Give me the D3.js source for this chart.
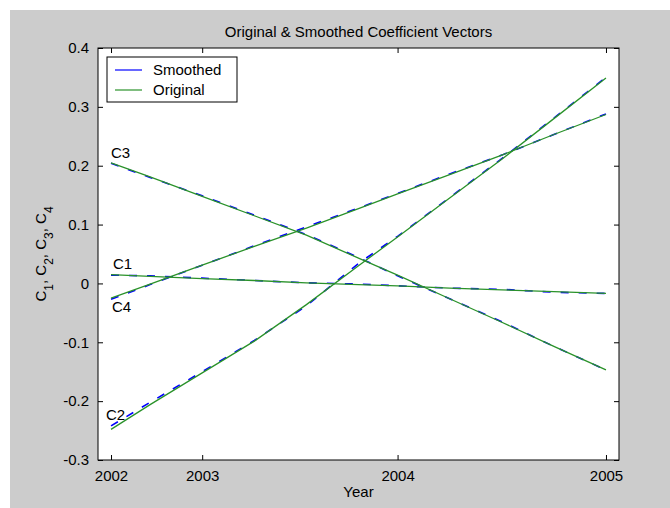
<!DOCTYPE html>
<html>
<head>
<meta charset="utf-8">
<script src="https://cdnjs.cloudflare.com/ajax/libs/d3/7.8.5/d3.min.js"></script>
<style>
  body { margin: 0; background: #fff; }
  text { font-family: "Liberation Sans", Arial, Helvetica, sans-serif; font-size: 15px; fill: #000; }
</style>
</head>
<body>
<div id="chart"></div>
<script>
// observation index (1..39), years marked on the axis
var obs = [1, 4, 8, 12, 16, 20, 23, 27, 31, 35, 39];
var yearTicks = [1, 8, 23, 39];
var yearLabels = ["2002", "2003", "2004", "2005"];
var yTicks = [-0.3, -0.2, -0.1, 0, 0.1, 0.2, 0.3, 0.4];
var seriesNames = ["C1", "C2", "C3", "C4"];

var origC1 = [0.015, 0.012, 0.008, 0.005, 0.001, -0.002, -0.004, -0.008, -0.011, -0.014, -0.017];
var origC2 = [-0.248, -0.206, -0.152, -0.098, -0.036, 0.030, 0.079, 0.145, 0.211, 0.280, 0.349];
var origC3 = [0.205, 0.181, 0.148, 0.115, 0.082, 0.043, 0.014, -0.026, -0.066, -0.107, -0.147];
var origC4 = [-0.025, -0.001, 0.031, 0.063, 0.094, 0.127, 0.152, 0.185, 0.218, 0.253, 0.287];

var smoothC1 = [0.014, 0.013, 0.009, 0.005, 0.001, -0.001, -0.004, -0.008, -0.010, -0.015, -0.017];
var smoothC2 = [-0.242, -0.202, -0.150, -0.097, -0.038, 0.034, 0.080, 0.146, 0.212, 0.281, 0.350];
var smoothC3 = [0.204, 0.180, 0.149, 0.116, 0.083, 0.044, 0.013, -0.026, -0.065, -0.107, -0.147];
var smoothC4 = [-0.027, -0.002, 0.031, 0.064, 0.096, 0.128, 0.153, 0.186, 0.218, 0.253, 0.288];

(function(){
  var width = 670, height = 508;
  var left = 98, right = 619, top = 48, bottom = 460;

  var svg = d3.select("#chart").append("svg")
    .attr("width", width)
    .attr("height", height);

  // figure background
  svg.append("rect")
    .attr("x", 10).attr("y", 10)
    .attr("width", width - 10).attr("height", height - 10)
    .attr("fill", "#cccccc");

  svg.append("rect")
    .attr("x", left).attr("y", top)
    .attr("width", right - left).attr("height", bottom - top)
    .attr("fill", "#fff");

  var x = d3.scaleLinear().domain([0, 40]).range([left, right]);
  var y = d3.scaleLinear().domain([-0.3, 0.4]).range([bottom, top]);

  var line = d3.line()
    .x(function(d) { return x(d[0]); })
    .y(function(d) { return y(d[1]); });

  var smoothed = [smoothC1, smoothC2, smoothC3, smoothC4];
  var original = [origC1, origC2, origC3, origC4];

  smoothed.forEach(function(s) {
    svg.append("path")
      .attr("d", line(obs.map(function(t, i) { return [t, s[i]]; })))
      .attr("fill", "none")
      .attr("stroke", "#0000ff")
      .attr("stroke-width", 1.6)
      .attr("stroke-dasharray", "8,10");
  });

  original.forEach(function(s) {
    svg.append("path")
      .attr("d", line(obs.map(function(t, i) { return [t, s[i]]; })))
      .attr("fill", "none")
      .attr("stroke", "#2a922a")
      .attr("stroke-width", 1.3);
  });

  // series labels next to the first point
  var labelOff = [[2, -6], [-5, -9], [0, -5], [1, 14]];
  seriesNames.forEach(function(n, i) {
    svg.append("text")
      .attr("x", x(obs[0]) + labelOff[i][0])
      .attr("y", y(original[i][0]) + labelOff[i][1])
      .text(n);
  });

  // axes with inward ticks on all sides
  var fmt = function(d) { return String(+d.toFixed(1)); };
  var xb = svg.append("g")
    .attr("transform", "translate(0," + bottom + ")")
    .call(d3.axisBottom(x).tickValues(yearTicks)
      .tickFormat(function(d, i) { return yearLabels[i]; })
      .tickSizeInner(-5).tickSizeOuter(0).tickPadding(10));
  var xt = svg.append("g")
    .attr("transform", "translate(0," + top + ")")
    .call(d3.axisTop(x).tickValues(yearTicks).tickFormat("")
      .tickSizeInner(-5).tickSizeOuter(0));
  var yl = svg.append("g")
    .attr("transform", "translate(" + left + ",0)")
    .call(d3.axisLeft(y).tickValues(yTicks).tickFormat(fmt)
      .tickSizeInner(-5).tickSizeOuter(0).tickPadding(9));
  var yr = svg.append("g")
    .attr("transform", "translate(" + right + ",0)")
    .call(d3.axisRight(y).tickValues(yTicks).tickFormat("")
      .tickSizeInner(-5).tickSizeOuter(0));

  [xb, xt, yl, yr].forEach(function(g) {
    g.select(".domain").remove();
    g.selectAll("text").attr("font-size", null).attr("font-family", null);
    g.selectAll("line").attr("stroke", "#000");
  });

  svg.append("rect")
    .attr("x", left).attr("y", top)
    .attr("width", right - left).attr("height", bottom - top)
    .attr("fill", "none")
    .attr("stroke", "#000");

  // title and axis labels
  svg.append("text")
    .attr("x", (left + right) / 2).attr("y", 37)
    .attr("text-anchor", "middle")
    .text("Original & Smoothed Coefficient Vectors");

  svg.append("text")
    .attr("x", (left + right) / 2).attr("y", 497)
    .attr("text-anchor", "middle")
    .text("Year");

  var ylab = svg.append("text")
    .attr("transform", "translate(46," + ((top + bottom) / 2) + ") rotate(-90)")
    .attr("text-anchor", "middle");
  seriesNames.forEach(function(n, i) {
    ylab.append("tspan").text("C");
    ylab.append("tspan").attr("baseline-shift", "sub").attr("font-size", "12px").text(n.slice(1));
    if (i < 3) ylab.append("tspan").text(", ");
  });

  // legend
  var lg = svg.append("g");
  lg.append("rect")
    .attr("x", 107).attr("y", 57).attr("width", 130).attr("height", 45)
    .attr("fill", "#fff").attr("stroke", "#000");
  var legendItems = [["Smoothed", "#0000ff"], ["Original", "#2a922a"]];
  legendItems.forEach(function(it, i) {
    lg.append("line")
      .attr("x1", 115).attr("x2", 142)
      .attr("y1", 70 + i * 20).attr("y2", 70 + i * 20)
      .attr("stroke", it[1]).attr("stroke-width", 1.2);
    lg.append("text")
      .attr("x", 153).attr("y", 75 + i * 20)
      .text(it[0]);
  });
})();
</script>
</body>
</html>
